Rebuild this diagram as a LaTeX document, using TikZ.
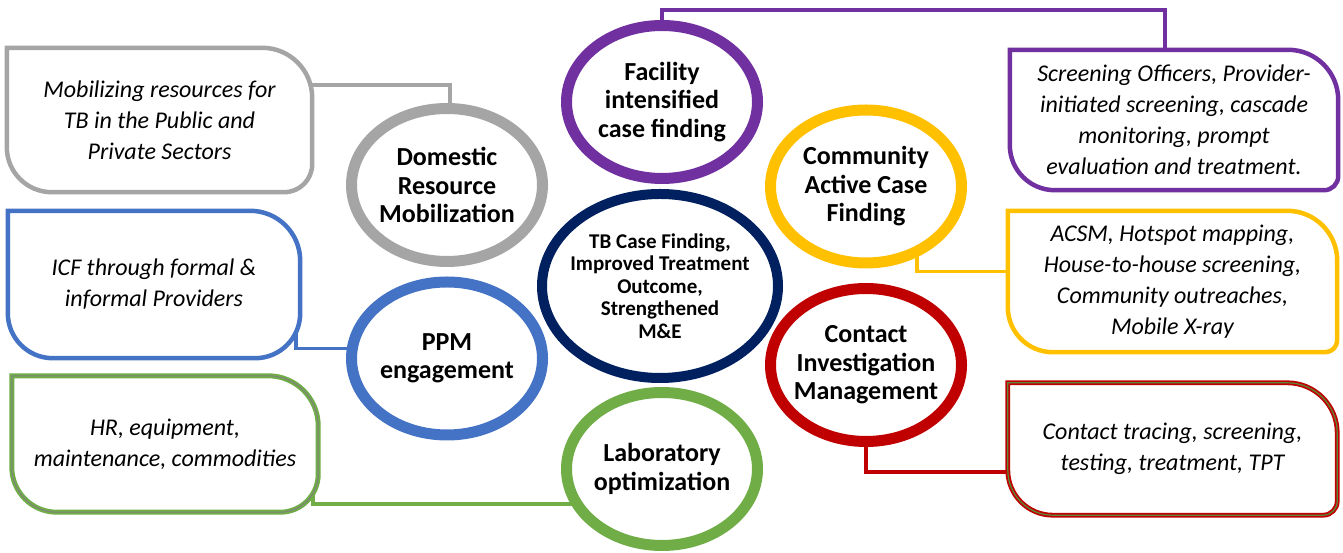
\documentclass[tikz,border=0pt]{standalone}
\usepackage{fontspec}
\setmainfont{Carlito}
\usepackage{tikz}
\usetikzlibrary{shapes.geometric}

\pgfdeclarelayer{links}
\pgfdeclarelayer{frames}
\pgfsetlayers{links,frames,main}

\definecolor{drmgray}{HTML}{A5A5A5}
\definecolor{ficfviolet}{HTML}{7030A0}
\definecolor{cacfgold}{HTML}{FFC000}
\definecolor{corenavy}{HTML}{002060}
\definecolor{ppmblue}{HTML}{4472C4}
\definecolor{cimred}{HTML}{C00000}
\definecolor{labgreen}{HTML}{70AD47}

% box outline: square top left, round top right and bottom left, #3 = bottom right radius
\newcommand{\tbframe}[3]{%
  \path[#2] (#1.north west) -- ([xshift=-50pt]#1.north east)
    arc[start angle=90,end angle=0,radius=50pt] -- ([yshift=#3]#1.south east)
    arc[start angle=0,end angle=-90,radius=#3] -- ([xshift=45pt]#1.south west)
    arc[start angle=270,end angle=180,radius=45pt] -- cycle;}

\begin{document}
\begin{tikzpicture}[x=1pt,y=1pt,
    ring/.style={draw,ellipse,fill=white,line width=11pt,inner sep=-12pt,
      minimum width=191pt,minimum height=153pt,align=center,
      font=\fontsize{26}{28.5}\selectfont\bfseries},
    infobox/.style={inner sep=0pt,align=center,
      font=\fontsize{24}{31}\selectfont\itshape},
    tbline/.style={fill=white,line width=4.5pt},
    link/.style={line width=3.5pt}]
  \useasboundingbox (0,0) rectangle (1343,553);

  % the seven ellipses
  \node[ring,draw=drmgray] (dom) at (447,368) {Domestic\\Resource\\Mobilization};
  \node[ring,draw=ficfviolet] (fac) at (662,451) {Facility\\intensified\\case finding};
  \node[ring,draw=cacfgold] (cac) at (866,366.5) {Community\\Active Case\\Finding};
  \node[ring,draw=corenavy,line width=10pt,minimum width=236pt,minimum height=184pt,
    font=\fontsize{21}{22.5}\selectfont\bfseries] (core) at (660,267)
    {TB Case Finding,\\Improved Treatment\\Outcome,\\Strengthened\\M\&E};
  \node[ring,draw=ppmblue] (ppm) at (447,194.5) {PPM\\engagement};
  \node[ring,draw=cimred] (cim) at (866,188) {Contact\\Investigation\\Management};
  \node[ring,draw=labgreen] (lab) at (662,84) {Laboratory\\optimization};

  % the six text boxes
  \node[infobox,minimum width=305pt,minimum height=144pt] (dombox) at (159.5,433)
    {Mobilizing resources for\\TB in the Public and\\Private Sectors};
  \node[infobox,minimum width=328pt,minimum height=140pt] (facbox) at (1174,433)
    {Screening Officers, Provider-\\initiated screening, cascade\\monitoring, prompt\\evaluation and treatment.};
  \node[infobox,minimum width=292pt,minimum height=147pt] (ppmbox) at (154,268.5)
    {ICF through formal \&\\informal Providers};
  \node[infobox,minimum width=329pt,minimum height=141pt] (cacbox) at (1172.5,271.5)
    {ACSM, Hotspot mapping,\\House-to-house screening,\\Community outreaches,\\Mobile X-ray};
  \node[infobox,minimum width=306pt,minimum height=136pt] (labbox) at (165,109)
    {HR, equipment,\\maintenance, commodities};
  \node[infobox,minimum width=329pt,minimum height=132pt] (cimbox) at (1172.5,104)
    {Contact tracing, screening,\\testing, treatment, TPT};

  \begin{pgfonlayer}{frames}
    \tbframe{dombox}{tbline,draw=drmgray}{28pt}
    \tbframe{facbox}{tbline,draw=ficfviolet}{14pt}
    \tbframe{ppmbox}{tbline,draw=ppmblue}{45pt}
    \tbframe{cacbox}{tbline,draw=cacfgold}{12pt}
    \tbframe{labbox}{tbline,draw=labgreen,double=gray,double distance=1pt,line width=2pt}{38pt}
    \tbframe{cimbox}{tbline,draw=cimred,double=labgreen!80!black,double distance=1.2pt,line width=1.8pt}{14pt}
  \end{pgfonlayer}

  % elbow connectors, hidden under the shapes
  \coordinate (facrail) at (1165,543);
  \begin{pgfonlayer}{links}
    \draw[link,drmgray] ([yshift=35pt]dombox.center) -| ([xshift=3pt]dom.center);
    \draw[link,ficfviolet] (fac.center) |- (facrail) -- (facrail |- facbox.center);
    \draw[link,cacfgold] ([xshift=51pt]cac.center) |- ([yshift=10pt]cacbox.center);
    \draw[link,ppmblue] ([xshift=142pt]ppmbox.center) |- ([yshift=10pt]ppm.center);
    \draw[link,labgreen] ([xshift=148pt]labbox.center) |- ([yshift=-35pt]lab.center);
    \draw[link,cimred] (cim.center) |- ([yshift=-23pt]cimbox.center);
  \end{pgfonlayer}
\end{tikzpicture}
\end{document}
